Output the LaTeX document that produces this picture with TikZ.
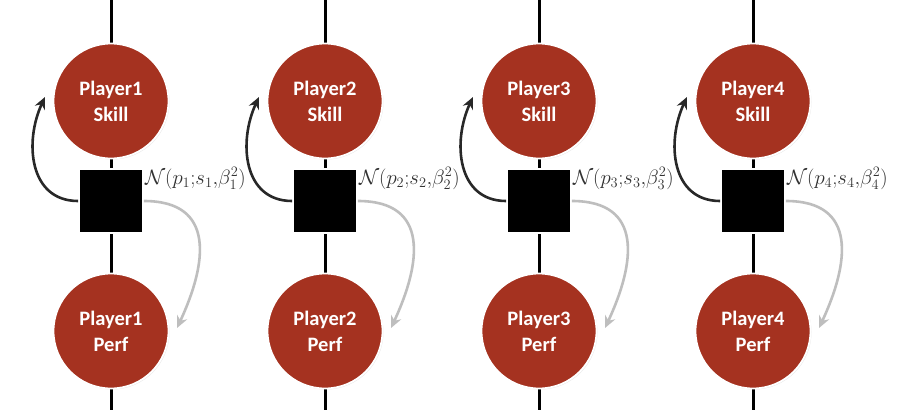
\documentclass[tikz,border=0pt]{standalone}
\usepackage{fontspec}
\setmainfont{Carlito}
\usetikzlibrary{arrows.meta,shadows}
\definecolor{varred}{RGB}{165,50,32}
\definecolor{arrgrey}{RGB}{190,190,190}
\definecolor{lblgrey}{RGB}{50,50,50}
\begin{document}
\begin{tikzpicture}[x=1pt,y=1pt,
  varnode/.style={circle, fill=varred, draw=white, line width=1.8pt, minimum size=115pt, inner sep=0pt,
    text=white, font=\fontsize{20.5}{26}\selectfont\bfseries, align=center,
    drop shadow={opacity=0.18, shadow xshift=1pt, shadow yshift=-1pt}},
  facnode/.style={rectangle, fill=black, draw=white, line width=1.8pt, minimum size=64pt, inner sep=0pt,
    drop shadow={opacity=0.18, shadow xshift=1pt, shadow yshift=-1pt}},
  chain/.style={line width=3pt, black},
  blkarrow/.style={line width=2.6pt, draw={rgb,255:red,40;green,40;blue,40}, -{Stealth[length=12pt,width=11pt]}},
  gryarrow/.style={line width=2.6pt, draw=arrgrey, -{Stealth[length=12pt,width=11pt]}},
  lbl/.style={anchor=north west, inner sep=1pt, text=lblgrey, font=\fontsize{21}{21}\selectfont}
]
\useasboundingbox (0,0) rectangle (907,-410);
\fill[white] (0,0) rectangle (907,-410);
\foreach \i in {1,...,4}{
  \pgfmathsetmacro{\cx}{111+214*(\i-1)}
  \coordinate (top\i) at (\cx,0);
  \coordinate (bot\i) at (\cx,-410);
  \draw[chain] (top\i) -- (bot\i);
  \node[varnode] (skill\i) at (\cx,-101) {Player\i\\Skill};
  \node[varnode] (perf\i) at (\cx,-331) {Player\i\\Perf};
  \node[facnode] (fac\i) at (\cx,-201) {};
  \coordinate (skilltip\i) at (\cx-66,-97);
  \coordinate (perftip\i) at (\cx+66,-328);
  \draw[blkarrow] (fac\i.west) to[out=180, in=-115, looseness=1.15] (skilltip\i);
  \draw[gryarrow] (fac\i.east) to[out=0, in=65, looseness=1.4] (perftip\i);
  \node[lbl] (lab\i) at ([yshift=2pt]fac\i.north east) {$\mathcal{N}(p_{\i}{;}s_{\i}{,}\beta_{\i}^{2})$};
}
\end{tikzpicture}
\end{document}
